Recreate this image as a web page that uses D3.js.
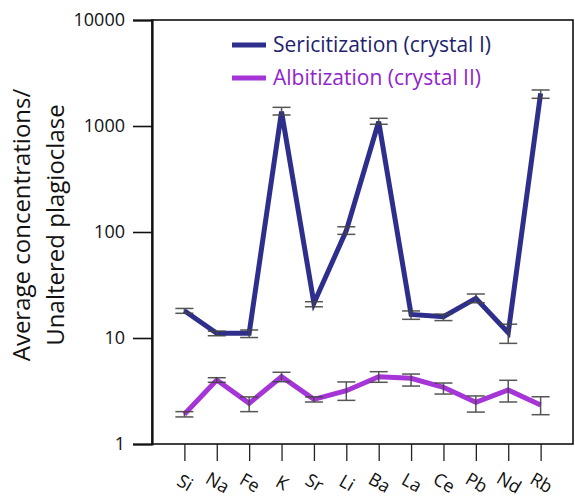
<!DOCTYPE html>
<html>
<head>
<meta charset="utf-8">
<script src="https://cdn.jsdelivr.net/npm/d3@7"></script>
<style>
  html, body { margin: 0; padding: 0; background: #fff; }
  svg { display: block; font-family: "Open Sans", Lato, sans-serif; }
</style>
</head>
<body>
<svg id="chart" width="575" height="498"></svg>
<script>
// Elements along the x axis
const elements = ["Si", "Na", "Fe", "K", "Sr", "Li", "Ba", "La", "Ce", "Pb", "Nd", "Rb"];

// Sericitization (crystal I): mean ratio and error bar bounds
const sericite     = [18.1, 11.1, 11.1, 1364, 21.3, 103, 1098, 16.7, 15.9, 23.7, 11.2, 2034];
const sericiteHigh = [19.0, 11.6, 11.9, 1500, 22.0, 112, 1182, 18.0, 16.8, 26.0, 13.5, 2187];
const sericiteLow  = [17.1, 10.5, 10.1, 1270, 19.7, 95, 1038, 15.0, 14.6, 21.5, 8.9, 1825];

// Albitization (crystal II): mean ratio and error bar bounds
const albite     = [1.91, 4.01, 2.42, 4.31, 2.64, 3.18, 4.31, 4.17, 3.43, 2.47, 3.23, 2.33];
const albiteHigh = [2.02, 4.22, 2.78, 4.75, 2.78, 3.85, 4.81, 4.57, 3.76, 2.84, 3.99, 2.79];
const albiteLow  = [1.80, 3.82, 2.02, 3.87, 2.49, 2.58, 3.82, 3.52, 2.96, 2.00, 2.49, 1.89];

const yTicks = [1, 10, 100, 1000, 10000];
const seriesNames = ["Sericitization (crystal I)", "Albitization (crystal II)"];
const lineColors = ["#2e2f8c", "#a535d6"];
const textColors = ["#1f1f6e", "#9124cc"];

const svg = d3.select("#chart");
const plotLeft = 152, plotRight = 573, plotTop = 20, plotBottom = 444;

const x = d3.scalePoint().domain(elements).range([plotLeft, plotRight]).padding(1);
const y = d3.scaleLog().domain([1, 10000]).range([plotBottom, plotTop]);

// Plot frame
svg.append("rect")
  .attr("x", plotLeft).attr("y", plotTop)
  .attr("width", plotRight - plotLeft).attr("height", plotBottom - plotTop)
  .attr("fill", "none").attr("stroke", "#111").attr("stroke-width", 1.6);

// Y axis
const yAxis = svg.append("g")
  .attr("transform", `translate(${plotLeft},0)`)
  .call(d3.axisLeft(y).tickValues(yTicks).tickFormat(d3.format("d")).tickSize(19).tickPadding(8));
yAxis.select(".domain").attr("stroke", "#111").attr("stroke-width", 2.2);
yAxis.selectAll(".tick line").attr("stroke", "#111").attr("stroke-width", 1.6);
yAxis.selectAll(".tick text")
  .attr("font-size", 18).attr("fill", "#111")
  .style("font-family", "'Open Sans', Lato, sans-serif");

// X axis
const xAxis = svg.append("g")
  .attr("transform", `translate(0,${plotBottom})`)
  .call(d3.axisBottom(x).tickSize(17).tickFormat(""));
xAxis.select(".domain").remove();
xAxis.selectAll(".tick line").attr("stroke", "#222").attr("stroke-width", 1.3);

svg.append("g").selectAll("text")
  .data(elements).join("text")
  .attr("transform", d => `translate(${x(d)},484) rotate(30)`)
  .attr("text-anchor", "middle")
  .attr("dominant-baseline", "middle")
  .attr("font-size", 18)
  .attr("fill", "#111")
  .text(d => d);

// Y axis title
const yTitle = svg.append("text")
  .attr("transform", "translate(0,225) rotate(-90)")
  .attr("text-anchor", "middle")
  .attr("font-size", 24)
  .attr("fill", "#111");
yTitle.append("tspan").attr("x", 0).attr("y", 30).text("Average concentrations/");
yTitle.append("tspan").attr("x", 0).attr("y", 64).text("Unaltered plagioclase");

// Series lines
const line = d3.line().x((d, i) => x(elements[i])).y(d => y(d));
const series = [
  { mean: sericite, hi: sericiteHigh, lo: sericiteLow },
  { mean: albite, hi: albiteHigh, lo: albiteLow }
];

series.forEach((s, k) => {
  svg.append("path")
    .datum(s.mean)
    .attr("d", line)
    .attr("fill", "none")
    .attr("stroke", lineColors[k])
    .attr("stroke-width", 5)
    .attr("stroke-linejoin", "miter");
});

// Error bars on top of the lines
series.forEach(s => {
  const g = svg.append("g").attr("stroke", "#444").attr("stroke-width", 1.5).attr("opacity", 0.9);
  elements.forEach((e, i) => {
    const cx = x(e);
    g.append("line").attr("x1", cx).attr("x2", cx).attr("y1", y(s.hi[i])).attr("y2", y(s.lo[i]));
    g.append("line").attr("x1", cx - 9).attr("x2", cx + 9).attr("y1", y(s.hi[i])).attr("y2", y(s.hi[i]));
    g.append("line").attr("x1", cx - 9).attr("x2", cx + 9).attr("y1", y(s.lo[i])).attr("y2", y(s.lo[i]));
  });
});

// Legend
const legend = svg.append("g");
seriesNames.forEach((name, k) => {
  const ly = 45 + k * 33;
  legend.append("line")
    .attr("x1", 232).attr("x2", 266).attr("y1", ly).attr("y2", ly)
    .attr("stroke", lineColors[k]).attr("stroke-width", 5);
  legend.append("text")
    .attr("x", 273).attr("y", ly + 7)
    .attr("font-size", 21)
    .attr("fill", textColors[k])
    .text(name);
});
</script>
</body>
</html>
